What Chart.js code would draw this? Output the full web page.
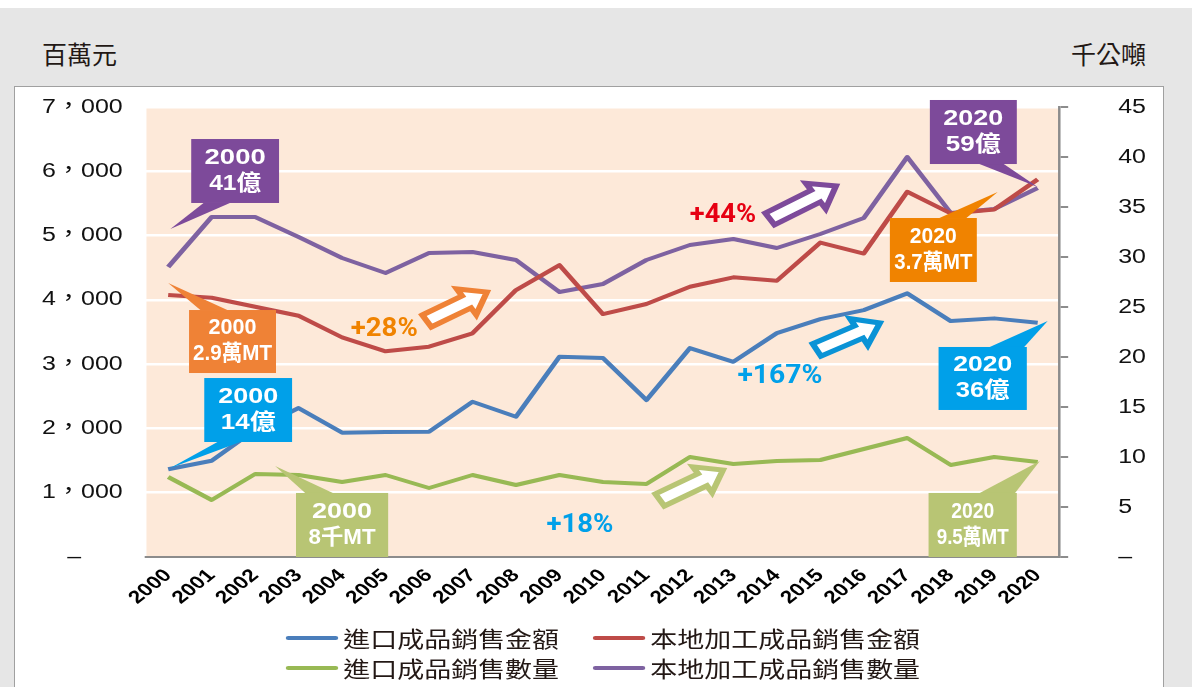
<!DOCTYPE html>
<html>
<head>
<meta charset="utf-8">
<script src="https://cdn.jsdelivr.net/npm/chart.js@4.4.0/dist/chart.umd.min.js"></script>
<style>
  body { margin: 0; width: 1192px; height: 687px; overflow: hidden; position: relative; background: #fff; font-family: "Noto Sans CJK TC", sans-serif; }
  #panel { position: absolute; left: 0; top: 8px; width: 1192px; height: 679px; background: #e6e6e6; }
  #box { position: absolute; left: 14px; top: 86px; width: 1148px; height: 620px; background: #fff; border: 1.5px solid #a0a0a0; }
  .unit { position: absolute; top: 41px; font-size: 25px; line-height: 25px; color: #231815; }
  #chart { position: absolute; left: 16px; top: 88px; }
</style>
</head>
<body>
<div id="panel"></div>
<div id="box"></div>
<div class="unit" style="left:42px">百萬元</div>
<div class="unit" style="left:1071px">千公噸</div>
<canvas id="chart" width="918" height="599"></canvas>
<script>
// Chart data

const years = ['2000', '2001', '2002', '2003', '2004', '2005', '2006', '2007', '2008', '2009', '2010',
               '2011', '2012', '2013', '2014', '2015', '2016', '2017', '2018', '2019', '2020'];

// millions of patacas, left axis
const importValue = [1364, 1498, 1980, 2317, 1933, 1944, 1949, 2415, 2182, 3115, 3095,
                     2442, 3250, 3037, 3483, 3700, 3841, 4101, 3670, 3712, 3644];
const localValue = [4075, 4033, 3893, 3753, 3417, 3200, 3271, 3479, 4152, 4541, 3779,
                    3935, 4204, 4350, 4297, 4890, 4720, 5681, 5345, 5407, 5874];

// thousand tonnes, right axis
const importQty = [8.0, 5.7, 8.3, 8.2, 7.5, 8.2, 6.9, 8.2, 7.2, 8.2, 7.5,
                   7.3, 10.0, 9.3, 9.6, 9.7, 10.8, 11.9, 9.2, 10.0, 9.5];
const localQty = [29.0, 34.0, 34.0, 32.0, 29.9, 28.4, 30.4, 30.5, 29.7, 26.5, 27.3,
                  29.7, 31.2, 31.8, 30.9, 32.3, 33.9, 40.0, 34.4, 34.8, 36.9];

const seriesNames = ['進口成品銷售金額', '本地加工成品銷售金額', '進口成品銷售數量', '本地加工成品銷售數量'];
const leftMax = 7000, leftStep = 1000;
const rightMax = 45, rightStep = 5;

// Annotations, placed in axis units (category index, left axis value)

const callouts = [
    { color: '#7d4a9a', x: [0.53, 2.55], y: [6502, 5507], side: 'bottom', base: [0.14, 0.44], tip: [0.05, 5102], text: ['2000', '41億'], fit: [49.6, 41.6] },
    { color: '#ef8236', x: [0.48, 2.48], y: [3842, 2862], side: 'top', base: [0.13, 0.44], tip: [0, 4262], text: ['2000', '2.9萬MT'], fit: [38.4, 63.2] },
    { color: '#00a0e9', x: [0.83, 2.85], y: [2784, 1789], side: 'bottom', base: [0.15, 0.41], tip: [0.05, 1384], text: ['2000', '14億'], fit: [48, 44] },
    { color: '#b8c574', x: [2.94, 5.06], y: [996, 0], side: 'top', base: [0.10, 0.40], tip: [2.46, 1416], text: ['2000', '8千MT'], fit: [48, 53.6] },
    { color: '#7d4a9a', x: [17.52, 19.52], y: [7109, 6113], side: 'bottom', base: [0.57, 0.85], tip: [20, 5756], text: ['2020', '59億'], fit: [48, 44] },
    { color: '#f08300', x: [16.6, 18.6], y: [5273, 4278], side: 'top', base: [0.57, 0.88], tip: [19.08, 5678], text: ['2020', '3.7萬MT'], fit: [37.6, 62.4] },
    { color: '#00a0e9', x: [17.72, 19.75], y: [3267, 2287], side: 'top', base: [0.58, 0.97], tip: [20.23, 3671], text: ['2020', '36億'], fit: [47.2, 43.2] },
    { color: '#b8c574', x: [17.49, 19.52], y: [996, 0], side: 'top', base: [0.58, 0.98], tip: [20.05, 1493], text: ['2020', '9.5萬MT'], fit: [34.4, 57.6] }
];

const changeLabels = [
    { text: '+28%', color: '#f08300', at: [4.97, 3531], fit: 53.6 },
    { text: '+44%', color: '#e60012', at: [12.76, 5305], fit: 53 },
    { text: '+167%', color: '#00a0e9', at: [14.07, 2800], fit: 68 },
    { text: '+18%', color: '#00a0e9', at: [9.47, 482], fit: 53.6 }
];

const arrows = [
    { color: '#ef8236', from: [5.95, 3671], to: [7.33, 4122] },
    { color: '#7d4a9a', from: [13.84, 5258], to: [15.36, 5771] },
    { color: '#0a93d6', from: [14.92, 3220], to: [16.37, 3640] },
    { color: '#b8c574', from: [11.31, 887], to: [12.76, 1353] }
];

// Plugins

const plotBackground = {
    id: 'plotBackground',
    beforeDraw(chart) {
        const {ctx, chartArea: a} = chart;
        ctx.save();
        ctx.fillStyle = '#fde9d9';
        ctx.fillRect(a.left, a.top, a.right - a.left, a.bottom - a.top);
        ctx.restore();
    }
};

function drawArrow(ctx, x0, y0, x1, y1, color) {
    const L = Math.hypot(x1 - x0, y1 - y0);
    const sw = 7, hw = 15, hl = 19;
    ctx.save();
    ctx.translate(x0, y0);
    ctx.rotate(Math.atan2(y1 - y0, x1 - x0));
    ctx.beginPath();
    ctx.moveTo(0, -sw);
    ctx.lineTo(L - hl, -sw);
    ctx.lineTo(L - hl, -hw);
    ctx.lineTo(L, 0);
    ctx.lineTo(L - hl, hw);
    ctx.lineTo(L - hl, sw);
    ctx.lineTo(0, sw);
    ctx.closePath();
    ctx.fillStyle = '#fff';
    ctx.fill();
    ctx.lineWidth = 5;
    ctx.lineJoin = 'miter';
    ctx.strokeStyle = color;
    ctx.stroke();
    ctx.restore();
}

const notes = {
    id: 'notes',
    afterDatasetsDraw(chart) {
        const ctx = chart.ctx;
        const px = i => chart.scales.x.getPixelForValue(i);
        const py = v => chart.scales.y.getPixelForValue(v);
        ctx.save();

        arrows.forEach(a => {
            drawArrow(ctx, px(a.from[0]), py(a.from[1]), px(a.to[0]), py(a.to[1]), a.color);
        });

        ctx.textAlign = 'center';
        ctx.textBaseline = 'middle';
        ctx.font = 'bold 25px Roboto, "Liberation Sans"';
        changeLabels.forEach(l => {
            ctx.fillStyle = l.color;
            ctx.fillText(l.text, px(l.at[0]), py(l.at[1]), l.fit);
        });

        callouts.forEach(c => {
            const left = px(c.x[0]), right = px(c.x[1]);
            const top = py(c.y[0]), bottom = py(c.y[1]);
            const w = right - left, h = bottom - top;
            const edge = c.side === 'top' ? top : bottom;
            ctx.fillStyle = c.color;
            ctx.beginPath();
            ctx.moveTo(left + w * c.base[0], edge);
            ctx.lineTo(px(c.tip[0]), py(c.tip[1]));
            ctx.lineTo(left + w * c.base[1], edge);
            ctx.closePath();
            ctx.fill();
            ctx.fillRect(left, top, w, h);
            ctx.fillStyle = '#fff';
            ctx.font = 'bold 22px "Liberation Sans", "Noto Sans CJK TC"';
            const cx = left + w / 2;
            ctx.fillText(c.text[0], cx, top + h * 0.29, c.fit[0]);
            ctx.fillText(c.text[1], cx, top + h * 0.70, c.fit[1]);
        });
        ctx.restore();
    }
};

const rowLegend = {
    id: 'rowLegend',
    afterDraw(chart) {
        const {ctx, chartArea: a} = chart;
        const ds = chart.data.datasets;
        const sample = 42, gap = 4, colGap = 27;
        ctx.save();
        ctx.font = '21.6px "Noto Sans CJK TC"';
        const w0 = Math.max(ctx.measureText(ds[0].label).width, ctx.measureText(ds[2].label).width);
        const w1 = Math.max(ctx.measureText(ds[1].label).width, ctx.measureText(ds[3].label).width);
        const total = sample + gap + w0 + colGap + sample + gap + w1;
        const x0 = (a.left + a.right) / 2 - total / 2;
        const x1 = x0 + sample + gap + w0 + colGap;
        const rows = [a.bottom + 81, a.bottom + 111];
        ds.forEach((d, i) => {
            const x = i % 2 === 0 ? x0 : x1;
            const y = rows[Math.floor(i / 2)];
            ctx.strokeStyle = d.borderColor;
            ctx.lineWidth = 4;
            ctx.lineCap = 'round';
            ctx.beginPath();
            ctx.moveTo(x + 2, y);
            ctx.lineTo(x + sample - 2, y);
            ctx.stroke();
            ctx.fillStyle = '#231815';
            ctx.textAlign = 'left';
            ctx.textBaseline = 'middle';
            ctx.fillText(d.label, x + sample + gap, y + 1);
        });
        ctx.restore();
    }
};

// Chart

function lineSet(label, data, color, axis) {
    return {
        label: label,
        data: data,
        yAxisID: axis,
        borderColor: color,
        backgroundColor: color,
        borderWidth: 4,
        tension: 0,
        pointRadius: 0,
        pointHoverRadius: 0,
        borderJoinStyle: 'round',
        fill: false
    };
}

// keep the plot edges where the picture has them
function fixSide(width) {
    return s => {
        s.width = width;
        s.paddingTop = 0;
        s.paddingBottom = 0;
    };
}

const canvas = document.getElementById('chart');

const myChart = new Chart(canvas, {
    type: 'line',
    data: {
        labels: years,
        datasets: [
            lineSet(seriesNames[0], importValue, '#4a7ebb', 'y'),
            lineSet(seriesNames[1], localValue, '#be4b48', 'y'),
            lineSet(seriesNames[2], importQty, '#98b954', 'y1'),
            lineSet(seriesNames[3], localQty, '#7e62a1', 'y1')
        ]
    },
    options: {
        responsive: false,
        animation: false,
        devicePixelRatio: 1,
        events: [],
        layout: { padding: { top: 19, left: 0, right: 0, bottom: 0 } },
        plugins: {
            legend: { display: false },
            tooltip: { enabled: false }
        },
        scales: {
            x: {
                offset: true,
                grid: { display: false, drawTicks: false },
                border: { display: true, color: '#8c8c8c', width: 2 },
                ticks: {
                    autoSkip: false,
                    maxRotation: 45,
                    minRotation: 45,
                    padding: 8,
                    color: '#000',
                    font: { family: '"Liberation Sans"', size: 18, weight: 'bold' }
                },
                afterFit: s => { s.height = 130; }
            },
            y: {
                position: 'left',
                min: 0,
                max: leftMax,
                grid: {
                    color: c => c.tick.value === 0 ? 'rgba(0,0,0,0)' : '#ffffff',
                    lineWidth: 2.5,
                    drawTicks: false
                },
                border: { display: false },
                ticks: {
                    stepSize: leftStep,
                    padding: 19,
                    color: '#111',
                    font: { family: '"Liberation Sans", "Noto Sans CJK TC"', size: 20 },
                    callback: v => v === 0 ? '–      ' : String(v).replace(/(\d)(\d{3})$/, '$1，$2')
                },
                afterFit: fixSide(104.4)
            },
            y1: {
                position: 'right',
                min: 0,
                max: rightMax,
                grid: { drawOnChartArea: false, drawTicks: true, tickLength: 7, color: '#8c8c8c', lineWidth: 2 },
                border: { display: true, color: '#8c8c8c', width: 2 },
                ticks: {
                    stepSize: rightStep,
                    padding: 40,
                    color: '#111',
                    font: { family: '"Liberation Sans"', size: 20 },
                    callback: v => v === 0 ? '–' : v
                },
                afterFit: fixSide(82.9)
            }
        }
    },
    plugins: [plotBackground, notes, rowLegend]
});

// The original picture is stretched sideways; redraw with the same stretch
canvas.width = 1147;
canvas.style.width = '1147px';
canvas.style.height = '599px';
myChart.ctx.setTransform(1147 / 918, 0, 0, 1, 0, 0);
myChart.draw();
</script>
</body>
</html>
